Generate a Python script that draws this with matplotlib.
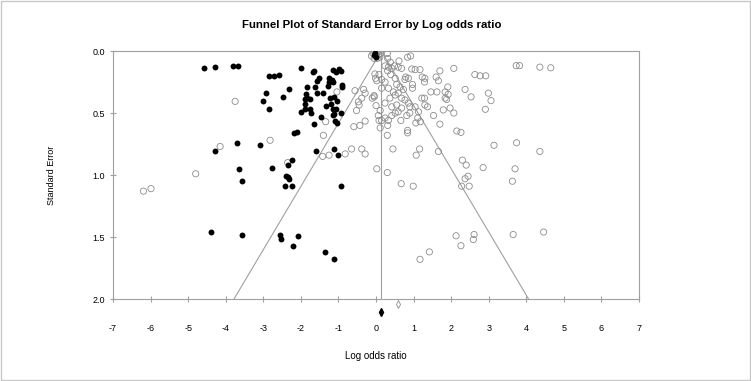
import matplotlib
matplotlib.use("Agg")
import matplotlib.pyplot as plt
import numpy as np
from matplotlib.patches import Rectangle

plt.rcParams['font.family'] = ['Liberation Sans', 'DejaVu Sans']
plt.rcParams['axes.unicode_minus'] = False

# imputed studies (filled) : log odds ratio, standard error
filled_x = [-4.58, -4.29, -3.80, -3.68, -3.69, -4.29, -3.08, -3.64, -3.57,
            -3.01, -2.93, -2.85, -2.85, -2.71, -2.57, -2.78,
            -2.00, -1.68, -1.64, -1.14, -1.07, -0.99, -0.93,
            -1.53, -1.56, -1.25, -1.18, -1.22, -1.26, -1.14,
            -1.28, -0.91, -0.90, -2.31, -1.83, -1.63, -2.47,
            -1.87, -1.83, -1.89, -1.58, -1.41, -1.22, -1.11, -1.05,
            -1.76, -1.90, -1.33, -1.19, -1.14, -1.99, -1.89, -1.77, -1.73,
            -1.07, -0.94, -1.13, -1.15, -1.47, -1.08, -1.03, -1.65,
            -2.18, -2.10, -1.61, -1.11, -1.01, -2.24, -2.33,
            -4.39, -3.58, -2.40, -2.35, -2.31, -2.42, -2.23, -0.93,
            -2.55, -2.53, -2.07, -2.22, -1.36, -1.11,
            -0.05, 0.00, -0.02]
filled_se = [0.135, 0.129, 0.118, 0.118, 0.742, 0.81, 0.76, 0.95, 1.05,
             0.40, 0.34, 0.47, 0.20, 0.20, 0.19, 0.94,
             0.14, 0.167, 0.159, 0.153, 0.167, 0.148, 0.161,
             0.215, 0.242, 0.22, 0.23, 0.24, 0.25, 0.25,
             0.28, 0.274, 0.29, 0.31, 0.29, 0.29, 0.37,
             0.35, 0.38, 0.39, 0.34, 0.34, 0.38, 0.37, 0.40,
             0.39, 0.425, 0.44, 0.425, 0.47, 0.49, 0.47, 0.47, 0.50,
             0.47, 0.50, 0.51, 0.52, 0.53, 0.565, 0.58, 0.59,
             0.66, 0.65, 0.81, 0.79, 0.84, 0.88, 0.92,
             1.46, 1.48, 1.01, 1.02, 1.03, 1.09, 1.09, 1.09,
             1.48, 1.52, 1.49, 1.57, 1.62, 1.68,
             0.03, 0.05, 0.02]

# observed studies (open)
open_x = [-6.19, -5.99, -4.80, -4.15, -3.75, -2.82,
          -1.04, -1.34, -1.40, -2.35, -1.42, -1.25, -0.82,
          -0.65, -0.38, -0.29, -0.59, -0.43, -0.29,
          -0.52, -0.45, -0.47, -0.38, -0.56, -0.33, -0.29, -0.10, -0.05,
          -0.03, -0.01, 0.02, 0.08, -0.05, 0.00, 0.06, 0.11,
          -0.12, -0.08, -0.03, 0.02, 0.06, 0.10, -0.05, 0.03, 0.12, 0.00,
          0.30, 0.31, 0.84, 0.92,
          0.61, 0.38, 0.49, 0.59, 0.68, 0.24, 0.33, 0.42, 0.31, 0.39, 0.08,
          0.95, 1.04, 1.17, 0.79, 0.86, 0.77, 0.97, 0.97,
          1.23, 1.30, 1.29, 1.60, 1.66, 1.70, 2.07,
          2.63, 2.77, 2.92, 2.37, 2.53, 2.99, 3.06, 2.91,
          1.46, 1.62, 1.84, 1.92, 1.88, 1.84, 1.91,
          1.22, 1.29, 1.37, 1.30, 1.79, 1.97, 2.07,
          1.53, 1.70, 1.11, 1.18, 1.06, 0.84, 0.84,
          2.15, 2.26, 3.14, 0.30, 0.45, 1.07, 1.16, 1.66,
          2.30, 2.40, 2.85, 0.30, 0.02,
          0.15, 0.33, 0.46, 0.51, 0.59, 0.68, 0.77, 0.86, 0.90, 0.68, 0.59,
          0.51, 0.42, 0.33, 0.24, 0.15, 0.31, 0.66, 0.82, 0.90, 1.04, 1.13,
          0.55, 0.42, 0.37, 0.24, 0.11, 0.15, 0.24, 0.51, 0.55, 0.64, 0.73,
          3.73, 3.82, 4.36, 4.65, 3.74, 4.36, 3.70, 3.63, 3.65, 4.46,
          0.67, 0.99, 2.28, 2.37, 2.45, 2.48, 2.13, 2.26, 2.61, 2.59, 1.17, 1.42]
open_se = [1.13, 1.11, 0.99, 0.77, 0.406, 0.72,
           0.33, 0.57, 0.68, 0.90, 0.85, 0.84, 0.83,
           0.79, 0.79, 0.83, 0.61, 0.60, 0.565,
           0.48, 0.435, 0.41, 0.38, 0.32, 0.31, 0.34, 0.38, 0.36,
           0.185, 0.22, 0.24, 0.56, 0.37, 0.44, 0.52, 0.62,
           0.04, 0.02, 0.01, 0.02, 0.03, 0.05, 0.06, 0.06, 0.02, 0.04,
           0.02, 0.06, 0.05, 0.04,
           0.08, 0.09, 0.12, 0.13, 0.14, 0.12, 0.13, 0.14, 0.16, 0.19, 0.19,
           0.145, 0.15, 0.15, 0.21, 0.22, 0.23, 0.27, 0.30,
           0.21, 0.22, 0.25, 0.21, 0.24, 0.16, 0.14,
           0.19, 0.20, 0.20, 0.31, 0.37, 0.34, 0.40, 0.47,
           0.33, 0.33, 0.33, 0.35, 0.39, 0.38, 0.29,
           0.38, 0.38, 0.45, 0.435, 0.475, 0.46, 0.50,
           0.52, 0.59, 0.54, 0.57, 0.58, 0.64, 0.66,
           0.645, 0.656, 0.76, 0.68, 0.79, 0.84, 0.79, 0.81,
           0.88, 0.92, 0.94, 0.98, 0.95,
           0.30, 0.30, 0.33, 0.355, 0.34, 0.38, 0.395, 0.42, 0.45, 0.46, 0.49,
           0.50, 0.52, 0.56, 0.54, 0.56, 0.60, 0.56, 0.52, 0.50, 0.45, 0.49,
           0.435, 0.45, 0.38, 0.42, 0.48, 0.23, 0.25, 0.22, 0.27, 0.29, 0.31,
           0.118, 0.118, 0.13, 0.135, 0.74, 0.81, 0.95, 1.05, 1.48, 1.46,
           1.07, 1.09, 1.09, 1.03, 1.01, 1.09, 1.49, 1.57, 1.48, 1.52, 1.68, 1.62]

# summary estimates (drawn below the axis)
adjusted_effect, adjusted_pos = 0.14, 2.105
observed_effect, observed_pos = 0.58, 2.04

x_ticks = list(range(-7, 8))
y_ticks = [0.0, 0.5, 1.0, 1.5, 2.0]

grey = '#a0a0a0'

fig = plt.figure(figsize=(7.51, 3.81), dpi=100)
ax = fig.add_axes([0.1505, 0.2152, 0.7004, 0.6509])

# funnel around the adjusted estimate
se_line = np.array([0.0, 2.0])
ax.plot(adjusted_effect - 1.96 * se_line, se_line, color=grey, lw=0.8)
ax.plot(adjusted_effect + 1.96 * se_line, se_line, color=grey, lw=0.8)
ax.plot([adjusted_effect, adjusted_effect], [0, 2], color=grey, lw=0.8)

ax.scatter(open_x, open_se, s=20, facecolors='none', edgecolors='#8c8c8c',
           linewidths=0.6, zorder=3)
ax.scatter(filled_x, filled_se, s=18, color='black', linewidths=0, zorder=4)

ax.plot([adjusted_effect], [adjusted_pos], marker='d', color='black',
        markersize=4, clip_on=False)
ax.plot([observed_effect], [observed_pos], marker='d', markerfacecolor='none',
        markeredgecolor='#8c8c8c', markersize=4, markeredgewidth=0.6,
        clip_on=False)

ax.set_xlim(-7, 7)
ax.set_ylim(2.0, 0.0)
ax.set_xticks(x_ticks)
ax.set_yticks(y_ticks)
ax.set_yticklabels([f'{v:.1f}' for v in y_ticks])
for s in ax.spines.values():
    s.set_color(grey)
    s.set_linewidth(0.8)
ax.tick_params(axis='x', direction='inout', length=4, color=grey, pad=16,
               labelsize=6.5)
ax.tick_params(axis='y', direction='inout', length=4, color=grey, pad=4,
               labelsize=6.5)

ax.set_xlabel('Log odds ratio', fontsize=7, labelpad=13)
ax.set_ylabel('Standard Error', fontsize=6.5, labelpad=26)
fig.text(0.4953, 0.934, 'Funnel Plot of Standard Error by Log odds ratio',
         ha='center', va='center', fontsize=8.2, fontweight='bold')

fig.patches.append(Rectangle((0.001, 0.002), 0.998, 0.996, transform=fig.transFigure,
                             fill=False, edgecolor='#c8c8c8', lw=1.0))

fig.savefig('out.png', dpi=100)
